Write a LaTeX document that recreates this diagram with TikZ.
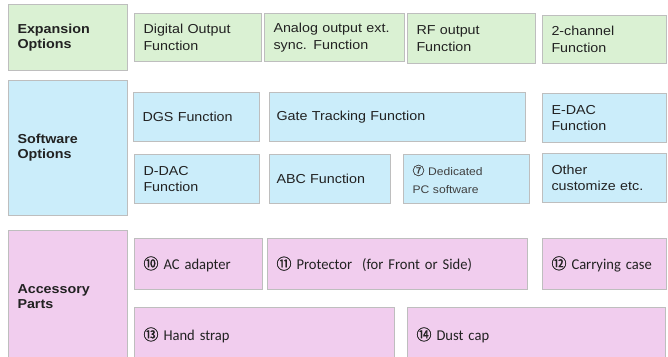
\documentclass[tikz,border=0pt]{standalone}
\usepackage{fontspec}
\setmainfont{Liberation Sans}[FakeStretch=1.1]
\newfontfamily\accfont{Carlito}[FakeStretch=0.97]
\newfontfamily\cjk{Noto Sans CJK JP}[FakeBold=1.2]
\definecolor{grn}{HTML}{DAF1D3}
\definecolor{blu}{HTML}{CBEDFA}
\definecolor{pnk}{HTML}{F1CDEE}
\definecolor{bord}{HTML}{BEBEBE}
\definecolor{txt}{HTML}{222222}
\newcommand{\cnum}[1]{{\cjk\fontsize{15}{15}\selectfont #1}}
\begin{document}
\begin{tikzpicture}[x=1pt,y=-1pt,
  cell/.style={draw=bord, line width=1pt, anchor=north west, inner ysep=0pt, inner xsep=9pt,
    align=left, text=txt, font=\fontsize{13}{16.5}\selectfont},
  head/.style={cell, font=\fontsize{13}{15}\selectfont\bfseries},
  acctext/.style={font=\accfont\fontsize{15}{17}\selectfont},
  ]
\useasboundingbox (0,0) rectangle (668,356);
\fill[white] (0,0) rectangle (668,356);
% helper: #1 name, x1,y1,x2,y2
\newcommand{\cellbox}[7]{%
  \node[#6, text width={#4-#2-18}, minimum height={#5-#3}] (#1) at (#2,#3) {#7};}
% Expansion options
\cellbox{exp}{8}{4}{127}{70}{head, fill=grn}{Expansion\\Options}
\cellbox{dig}{134}{13}{261}{61}{cell, fill=grn}{Digital Output\\Function}
\cellbox{ana}{264}{13}{404}{61}{cell, fill=grn}{Analog output ext.\\sync. Function}
\cellbox{rf}{407}{13}{535}{63}{cell, fill=grn}{RF output\\Function}
\cellbox{chn}{542}{15}{666}{63}{cell, fill=grn}{2-channel\\Function}
% Software options
\cellbox{sw}{8}{80}{127}{215}{head, fill=blu}{Software\\Options}
\cellbox{dgs}{133}{92}{259}{141}{cell, fill=blu}{DGS Function}
\cellbox{gate}{269}{92}{529}{141}{cell, fill=blu, inner xsep=7pt}{Gate Tracking Function}
\cellbox{edac}{542}{93}{666}{142}{cell, fill=blu}{E-DAC\\Function}
\cellbox{ddac}{134}{154}{259}{203}{cell, fill=blu}{D-DAC\\Function}
\cellbox{abc}{269}{154}{394}{203}{cell, fill=blu, inner xsep=7pt}{ABC Function}
\cellbox{pc}{403}{154}{529}{203}{cell, fill=blu, text=black!75, font=\fontsize{11}{18}\selectfont}{{\cjk\fontsize{12}{12}\selectfont ⑦} Dedicated\\PC software}
\cellbox{oth}{542}{153}{666}{202}{cell, fill=blu}{Other\\customize etc.}
% Accessory parts
\cellbox{acc}{8}{230}{127}{362}{head, fill=pnk}{Accessory\\Parts}
\cellbox{ac}{134}{238}{262}{289}{cell, fill=pnk, acctext}{\cnum{⑩} AC adapter}
\cellbox{prot}{267}{238}{527}{289}{cell, fill=pnk, acctext}{\cnum{⑪} Protector\ \ (for Front or Side)}
\cellbox{carry}{542}{238}{666}{289}{cell, fill=pnk, acctext}{\cnum{⑫} Carrying case}
\cellbox{hand}{134}{307}{394}{362}{cell, fill=pnk, acctext, minimum height=49, anchor=north west}{\cnum{⑬} Hand strap}
\cellbox{dust}{407}{307}{665}{362}{cell, fill=pnk, acctext, minimum height=49, anchor=north west}{\cnum{⑭} Dust cap}
\end{tikzpicture}
\end{document}
